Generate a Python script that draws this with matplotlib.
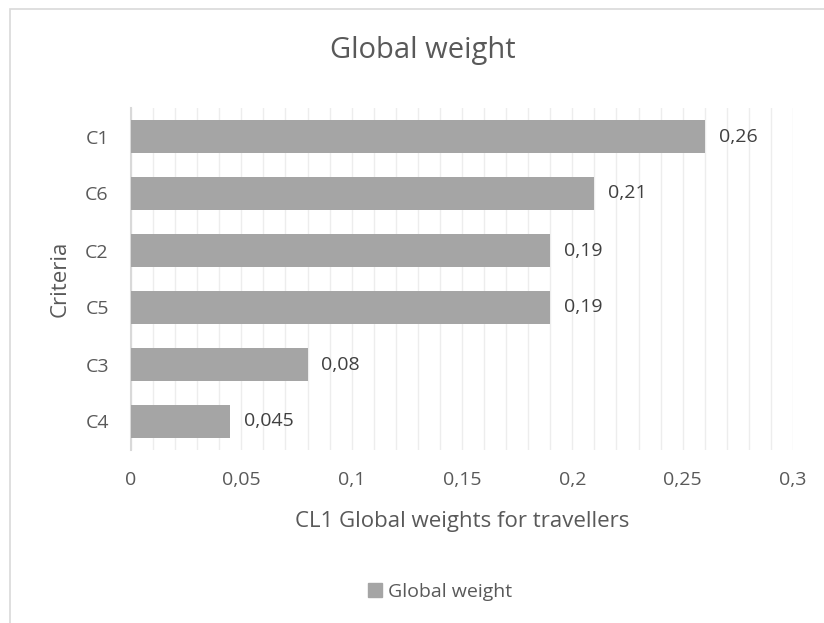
import matplotlib.pyplot as plt
from matplotlib.patches import Rectangle, Patch
from matplotlib.ticker import MultipleLocator, FuncFormatter

# global weights of the criteria, top to bottom
criteria = ['C1', 'C6', 'C2', 'C5', 'C3', 'C4']
weights = [0.26, 0.21, 0.19, 0.19, 0.08, 0.045]
labels = ['0,26', '0,21', '0,19', '0,19', '0,08', '0,045']

plt.rcParams['font.family'] = ['Open Sans', 'DejaVu Sans']
txt = '#595959'
bar_c = '#A5A5A5'

fig = plt.figure(figsize=(8.24, 6.23), dpi=100)
# outer chart frame
fig.patches.append(Rectangle((10/824, -0.01), 1.0, 1 - 9/623 + 0.01,
                             transform=fig.transFigure, fill=False,
                             edgecolor='#D9D9D9', linewidth=1.2))
ax = fig.add_axes([131/824, 1 - 450/623, (793 - 131)/824, (450 - 108)/623])

y = list(range(len(criteria)))[::-1]
ax.barh(y, weights, height=0.58, color=bar_c, zorder=3)
for yi, w, lab in zip(y, weights, labels):
    ax.annotate(lab, (w, yi), xytext=(10, 0), textcoords='offset points',
                va='center', ha='left', fontsize=14, color='#404040')

ax.set_yticks(y)
ax.set_yticklabels(criteria)
ax.set_ylim(-0.5, len(criteria) - 0.5)
ax.set_xlim(0, 0.3)
ax.xaxis.set_major_locator(MultipleLocator(0.05))
ax.xaxis.set_minor_locator(MultipleLocator(0.01))
ax.xaxis.set_major_formatter(FuncFormatter(lambda v, p: ('%g' % round(v, 2)).replace('.', ',')))
ax.grid(axis='x', which='both', color='#EDEDED', linewidth=1, zorder=0)
ax.tick_params(axis='both', which='both', length=0, labelsize=14, colors=txt)
ax.tick_params(axis='x', pad=15)
ax.tick_params(axis='y', pad=16)

for s in ['top', 'right', 'bottom']:
    ax.spines[s].set_visible(False)
ax.spines['left'].set_color('#D9D9D9')
ax.spines['left'].set_linewidth(1.5)

ax.set_xlabel('CL1 Global weights for travellers', fontsize=16, color=txt)
ax.xaxis.label.set_verticalalignment('center')
ax.xaxis.set_label_coords(0.5, (450 - 521) / 342)
ax.set_ylabel('Criteria', fontsize=16, color=txt)
ax.yaxis.set_label_coords((71 - 131) / 662, 0.5)
fig.text(423/824, 1 - 58/623, 'Global weight', ha='center', va='baseline', fontsize=21, color=txt)

fig.legend(handles=[Patch(color=bar_c, label='Global weight')], loc='center',
           bbox_to_anchor=(440/824, 1 - 592/623), frameon=False, fontsize=14,
           handlelength=0.75, handleheight=0.75, handletextpad=0.3, labelcolor=txt)

fig.savefig('out.png', dpi=100)
